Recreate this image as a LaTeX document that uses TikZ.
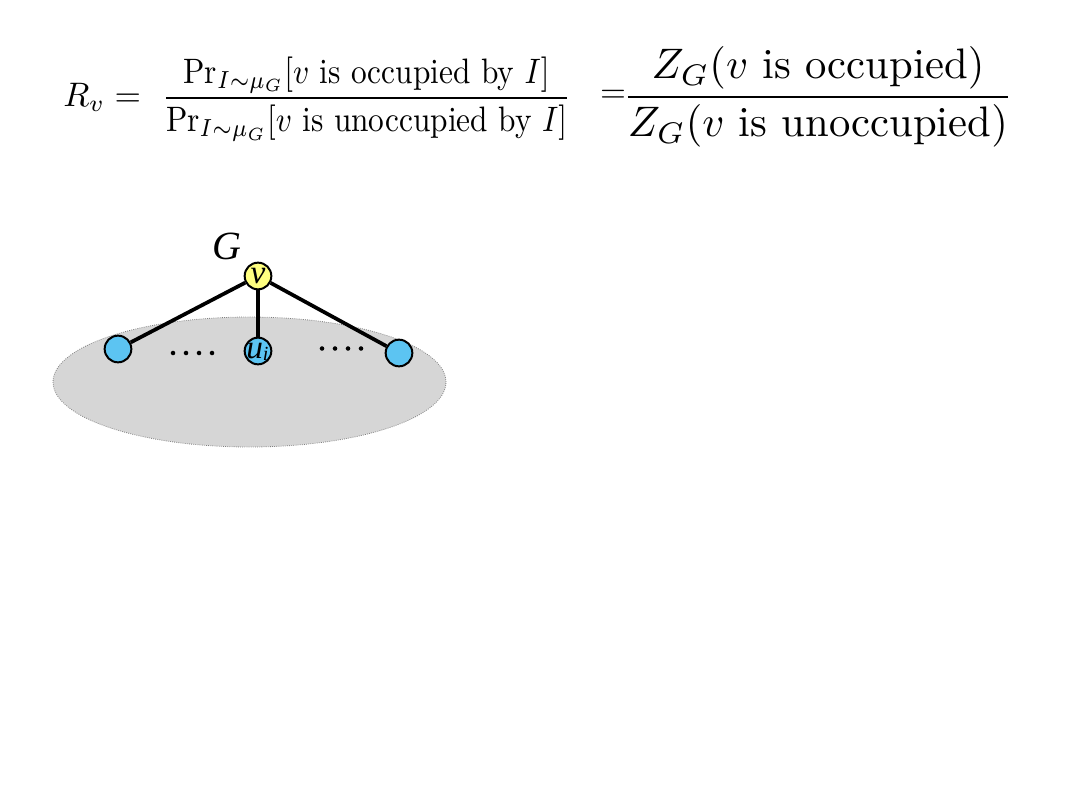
\documentclass[tikz,border=0pt]{standalone}
\usepackage{amsmath}
\usepackage{fontspec}
\usetikzlibrary{shapes.geometric}
\newfontfamily\tnr{Liberation Serif}
\definecolor{nodeblue}{HTML}{5CC4F2}
\definecolor{nodeyellow}{HTML}{FFFF80}
\definecolor{blobgray}{HTML}{D6D6D6}
\begin{document}
\begin{tikzpicture}[x=0.75pt,y=-0.75pt,
  vert/.style={circle,draw=black,line width=1.5pt,minimum size=20pt,inner sep=0pt},
  edge/.style={line width=2.8pt,black},
  dot/.style={circle,fill=black,inner sep=0pt,minimum size=3.4pt},
  lbl/.style={inner sep=0pt}]
\useasboundingbox (0,0) rectangle (1080,809);
% formula
\node[inner sep=0pt,anchor=west] (rv) at (63,97) {\scalebox{2.55}{$R_v\mathrel{=}$}};
\node[inner sep=0pt] (f1) at (366.5,99) {\scalebox{2.35}[2.65]{$\dfrac{\Pr_{I\sim\mu_G}[v\text{ is occupied by }I]}{\Pr_{I\sim\mu_G}[v\text{ is unoccupied by }I]}$}};
\node[inner sep=0pt] (eq2) at (613,96) {\scalebox{2.5}{$=$}};
\node[inner sep=0pt] (f2) at (818,97) {\scalebox{3.2}{$\dfrac{Z_G(v\text{ is occupied})}{Z_G(v\text{ is unoccupied})}$}};
% graph
\node[ellipse,draw=gray,densely dotted,line width=0.6pt,fill=blobgray,minimum width=294.75pt,minimum height=97.5pt,inner sep=0pt] (blob) at (249.5,382) {};
\node[vert,fill=nodeyellow] (v) at (258,276) {};
\node[vert,fill=nodeblue] (a) at (118,349) {};
\node[vert,fill=nodeblue] (u) at (258,351) {};
\node[vert,fill=nodeblue] (b) at (399,353) {};
\draw[edge] (v) -- (a);
\draw[edge] (v) -- (u);
\draw[edge] (v) -- (b);
\node[lbl,anchor=base,font=\tnr\itshape\fontsize{25}{25}\selectfont] (vl) at (258,283) {v};
\node[lbl,anchor=base west,font=\tnr\itshape\fontsize{25}{25}\selectfont] (ul) at (246,358) {u\raisebox{-2pt}{\fontsize{15}{15}\selectfont i}};
\node[lbl,anchor=base,font=\tnr\itshape\fontsize{30}{30}\selectfont] (G) at (227,259) {G};
\foreach \x [count=\i] in {173,186,199,212} \node[dot] (dl\i) at (\x,353) {};
\foreach \x [count=\i] in {322,335,348,361} \node[dot] (dr\i) at (\x,348.5) {};
\end{tikzpicture}
\end{document}
